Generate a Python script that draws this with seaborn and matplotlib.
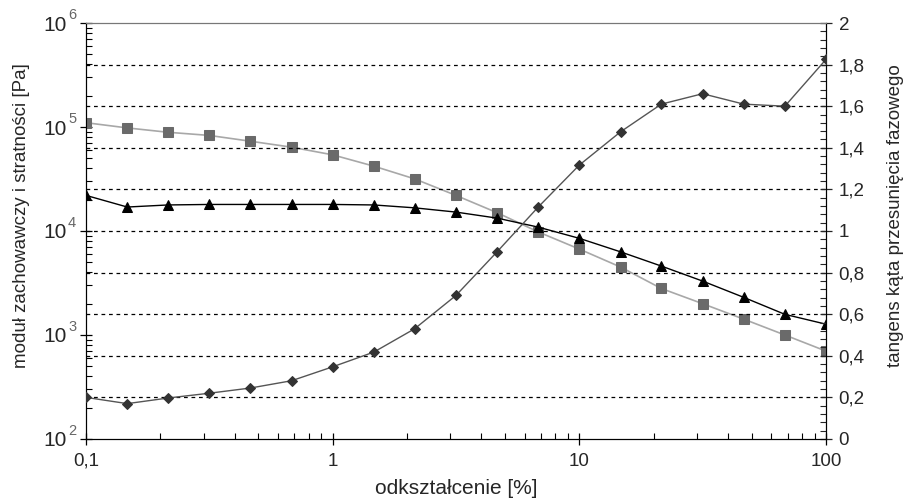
import numpy as np
import pandas as pd
import matplotlib
matplotlib.use("Agg")
import matplotlib.pyplot as plt
import matplotlib.ticker as mticker
import matplotlib.transforms as mtrans
import seaborn as sns

# ── Data ──────────────────────────────────────────────────────────────────────
strain = [0.1, 0.147, 0.215, 0.316, 0.464, 0.681, 1.0, 1.47, 2.15, 3.16,
          4.64, 6.81, 10.0, 14.7, 21.5, 31.6, 46.4, 68.1, 100.0]
g_storage = [1.10e5, 9.8e4, 8.9e4, 8.3e4, 7.3e4, 6.4e4, 5.4e4, 4.2e4, 3.17e4,
             2.2e4, 1.5e4, 9.8e3, 6.7e3, 4.5e3, 2.8e3, 2.0e3, 1.42e3, 1.0e3, 7.0e2]
g_loss = [2.2e4, 1.7e4, 1.78e4, 1.8e4, 1.8e4, 1.8e4, 1.8e4, 1.78e4, 1.67e4,
          1.52e4, 1.33e4, 1.09e4, 8.5e3, 6.3e3, 4.6e3, 3.3e3, 2.3e3, 1.58e3, 1.27e3]
tan_delta = [0.20, 0.17, 0.197, 0.22, 0.245, 0.28, 0.347, 0.418, 0.53, 0.69,
             0.90, 1.115, 1.317, 1.477, 1.61, 1.66, 1.61, 1.60, 1.825]

x_ticks = [0.1, 1, 10, 100]
x_ticklabels = ["0,1", "1", "10", "100"]
left_ticks = [1e2, 1e3, 1e4, 1e5, 1e6]
left_exps = ["2", "3", "4", "5", "6"]
right_ticks = [0, 0.2, 0.4, 0.6, 0.8, 1.0, 1.2, 1.4, 1.6, 1.8, 2.0]
right_ticklabels = ["0", "0,2", "0,4", "0,6", "0,8", "1", "1,2", "1,4", "1,6", "1,8", "2"]

df = pd.DataFrame({"strain": strain, "G1": g_storage, "G2": g_loss, "tan": tan_delta})

sns.set_style("ticks")
plt.rcParams["font.family"] = ["Liberation Sans", "DejaVu Sans"]

fig = plt.figure(figsize=(9.09, 4.98), dpi=100)
ax = fig.add_axes([0.0946, 0.1185, 0.8141, 0.8353])
ax2 = ax.twinx()

# dashed grid at right-axis ticks
for v in right_ticks[1:-1]:
    ax2.axhline(v, color="black", lw=0.9, ls=(0, (3, 3)), zorder=0)

sns.lineplot(data=df, x="strain", y="G1", ax=ax, color="#a8a8a8", lw=1.2,
             marker="s", markersize=7, markerfacecolor="#6a6a6a",
             markeredgecolor="#6a6a6a", zorder=3)
sns.lineplot(data=df, x="strain", y="G2", ax=ax, color="black", lw=1.0,
             marker="^", markersize=7, markerfacecolor="black",
             markeredgecolor="black", zorder=3)
sns.lineplot(data=df, x="strain", y="tan", ax=ax2, color="#555555", lw=1.0,
             marker="D", markersize=5, markerfacecolor="#333333",
             markeredgecolor="#333333", zorder=3)

ax.set_xscale("log")
ax.set_yscale("log")
ax.set_xlim(0.1, 100)
ax.set_ylim(1e2, 1e6)
ax2.set_ylim(0, 2)

ax.set_xticks(x_ticks)
ax.set_xticklabels(x_ticklabels, fontsize=13.5)
ax.xaxis.set_minor_locator(mticker.LogLocator(base=10, subs=np.arange(2, 10)))
ax.xaxis.set_minor_formatter(mticker.NullFormatter())

ax.set_yticks(left_ticks)
ax.set_yticklabels(["10"] * len(left_ticks), fontsize=15)
ax.yaxis.set_minor_locator(mticker.LogLocator(base=10, subs=np.arange(2, 10)))
ax.yaxis.set_minor_formatter(mticker.NullFormatter())
shift = mtrans.ScaledTranslation(0, -5 / 100, fig.dpi_scale_trans)
for lab in ax.get_yticklabels():
    lab.set_transform(lab.get_transform() + shift)
for t, e in zip(left_ticks, left_exps):
    ax.annotate(e, xy=(0, t), xycoords=ax.get_yaxis_transform(),
                xytext=(-10, 1), textcoords="offset points",
                fontsize=10.5, color="#666666", ha="center", va="bottom")

ax2.set_yticks(right_ticks)
ax2.set_yticklabels(right_ticklabels, fontsize=13.5)
ax2.yaxis.set_minor_locator(mticker.MultipleLocator(0.04))

ax.tick_params(axis="both", which="major", direction="inout", length=8,
               width=0.9, color="black")
ax.tick_params(axis="x", which="major", pad=6)
ax.tick_params(axis="both", which="minor", direction="in", length=4,
               width=0.8, color="black")
ax.tick_params(axis="y", which="major", pad=10)
ax2.tick_params(axis="y", which="major", direction="inout", length=8,
                width=0.9, pad=5)
ax2.tick_params(axis="y", which="minor", direction="in", length=4, width=0.8)

for a in (ax, ax2):
    a.spines["top"].set_visible(True)
    a.spines["top"].set_color("#777777")
    a.spines["left"].set_color("black")
    a.spines["right"].set_color("black")
    a.spines["bottom"].set_color("black")

ax.set_xlabel("odkształcenie [%]", fontsize=15)
ax.xaxis.set_label_coords(0.5, -0.096)
ax.set_ylabel("moduł zachowawczy i stratności [Pa]", fontsize=13.5)
ax.yaxis.set_label_coords(-0.075, 0.536)
ax2.set_ylabel("tangens kąta przesunięcia fazowego", fontsize=13.5)
ax2.yaxis.set_label_coords(1.083, 0.536)

fig.savefig("out.png", dpi=100)
